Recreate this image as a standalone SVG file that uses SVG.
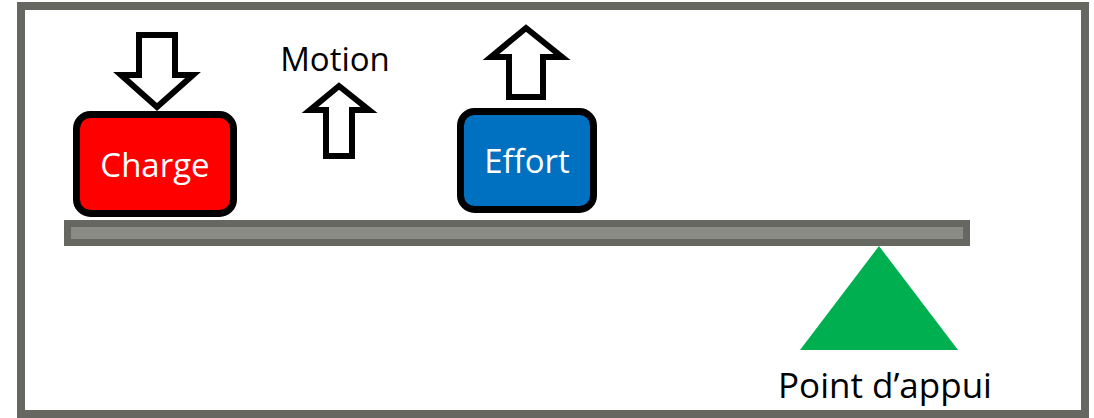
<svg xmlns="http://www.w3.org/2000/svg" width="1094" height="418" viewBox="0 0 1094 418">
<style>
.lbl{font-family:"Open Sans","Liberation Sans",sans-serif;font-size:33px;text-anchor:middle}
.w{fill:#ffffff}
.k{fill:#000000}
.arrow{fill:#ffffff;stroke:#000000;stroke-width:6;stroke-linejoin:miter}
.box{stroke:#000000;stroke-width:7}
</style>
<rect x="0" y="0" width="1094" height="418" fill="#ffffff"/>
<rect id="frame" x="21" y="6" width="1064" height="408" fill="none" stroke="#676762" stroke-width="8"/>
<g id="beam"><rect x="67.5" y="223.5" width="899" height="19" fill="#8a8b84" stroke="#676762" stroke-width="7"/></g>
<g id="charge">
<rect class="box" x="76.5" y="114.5" width="157" height="99" rx="14" fill="#ff0000"/>
<text class="lbl w" x="155" y="177">Charge</text>
</g>
<g id="charge-arrow"><polygon class="arrow" points="139,35 175,35 175,75 193,75 157,107 121,75 139,75"/></g>
<g id="motion">
<text class="lbl k" x="335" y="71">Motion</text>
<polygon class="arrow" points="339,86 369,110 352,110 352,156 326,156 326,110 310,110"/>
</g>
<g id="effort-arrow"><polygon class="arrow" points="526,28 562,57 543,57 543,97 509,97 509,57 491,57"/></g>
<g id="effort">
<rect class="box" x="460.5" y="111.5" width="133" height="98" rx="14" fill="#0070c0"/>
<text class="lbl w" x="527" y="173">Effort</text>
</g>
<g id="fulcrum">
<polygon points="879,246 958,350 800,350" fill="#00b050"/>
<text class="lbl k" x="885" y="398" style="font-size:35px">Point d’appui</text>
</g>
</svg>
